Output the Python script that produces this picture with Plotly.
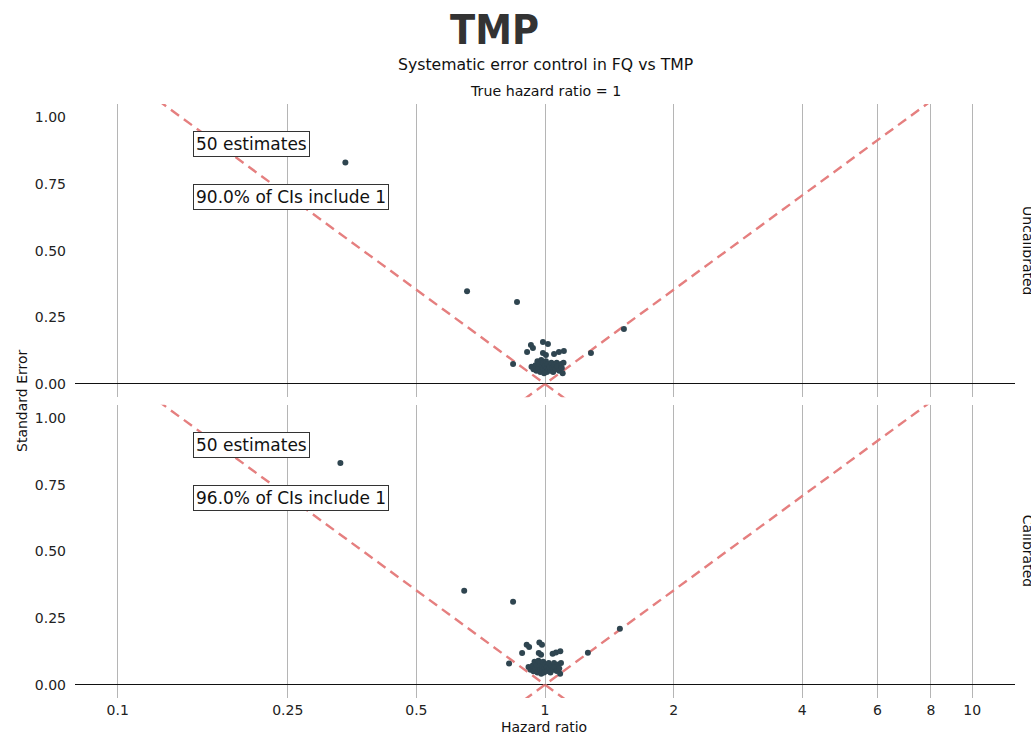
import math
import plotly.graph_objects as go

# ---------------- data ----------------
# Uncalibrated estimates (hazard ratio, standard error)
hr_uncal = [0.341, 0.657, 0.860, 1.53, 1.281, 0.842,
            0.927, 0.937, 0.989, 1.016, 0.908, 0.989, 1.005, 1.05, 1.078, 1.107,
            0.93, 0.94, 0.95, 0.955, 0.96, 0.965, 0.97, 0.975, 0.98, 0.985, 0.99, 0.99,
            0.995, 1.0, 1.0, 1.005, 1.01, 1.01, 1.015, 1.02, 1.025, 1.03, 1.035, 1.04,
            1.045, 1.05, 1.06, 1.065, 1.07, 1.08, 1.09, 1.095, 1.1, 1.105]
se_uncal = [0.831, 0.348, 0.307, 0.206, 0.116, 0.075,
            0.146, 0.135, 0.157, 0.150, 0.120, 0.116, 0.109, 0.112, 0.120, 0.124,
            0.065, 0.055, 0.07, 0.05, 0.085, 0.06, 0.075, 0.045, 0.09, 0.065, 0.055, 0.08,
            0.04, 0.07, 0.05, 0.085, 0.06, 0.045, 0.075, 0.055, 0.065, 0.05, 0.08, 0.06,
            0.045, 0.07, 0.055, 0.08, 0.065, 0.05, 0.075, 0.06, 0.04, 0.08]

# Calibrated estimates
hr_cal = [0.332, 0.647, 0.842, 1.497, 1.26, 0.824,
          0.906, 0.918, 0.970, 0.984, 0.884, 0.967, 0.979, 1.042, 1.061, 1.086,
          0.915, 0.925, 0.935, 0.94, 0.945, 0.95, 0.955, 0.96, 0.965, 0.97, 0.975, 0.975,
          0.98, 0.985, 0.985, 0.99, 0.995, 0.995, 1.0, 1.005, 1.01, 1.015, 1.02, 1.025,
          1.03, 1.035, 1.045, 1.05, 1.055, 1.065, 1.075, 1.08, 1.085, 1.09]
se_cal = [0.831, 0.352, 0.311, 0.210, 0.120, 0.079,
          0.150, 0.141, 0.158, 0.150, 0.119, 0.119, 0.112, 0.116, 0.121, 0.125,
          0.066, 0.056, 0.071, 0.05, 0.086, 0.061, 0.076, 0.046, 0.09, 0.066, 0.056, 0.081,
          0.041, 0.071, 0.051, 0.086, 0.061, 0.046, 0.076, 0.056, 0.066, 0.051, 0.081, 0.061,
          0.046, 0.071, 0.056, 0.081, 0.066, 0.051, 0.076, 0.061, 0.041, 0.081]

panel_labels = ["Uncalibrated", "Calibrated"]
count_labels = ["50 estimates", "50 estimates"]
coverage_labels = ["90.0% of CIs include 1", "96.0% of CIs include 1"]

x_tick_vals = [0.1, 0.25, 0.5, 1, 2, 4, 6, 8, 10]
x_tick_text = ["0.1", "0.25", "0.5", "1", "2", "4", "6", "8", "10"]
y_tick_vals = [0, 0.25, 0.5, 0.75, 1.0]
y_tick_text = ["0.00", "0.25", "0.50", "0.75", "1.00"]

z_crit = 1.96
funnel_se = [-0.2, 1.3]  # extent of the reference funnel lines (clipped by axes)

# ---------------- style ----------------
FONT = "DejaVu Sans"
POINT_COLOR = "#2f4550"
LINE_COLOR = "#e57f7f"
GRID_COLOR = "#b5b5b5"

fig = go.Figure()

panels = [("x2", "y2", hr_uncal, se_uncal), ("x", "y", hr_cal, se_cal)]
for xa, ya, hrs, ses in panels:
    # funnel lines: se = |ln(HR)| / z
    for sign in (1, -1):
        fig.add_trace(go.Scatter(
            x=[math.exp(sign * z_crit * s) for s in funnel_se], y=funnel_se,
            mode="lines", line=dict(color=LINE_COLOR, width=2.4, dash="10px,6px"),
            xaxis=xa, yaxis=ya, showlegend=False, hoverinfo="skip"))
    fig.add_trace(go.Scatter(
        x=hrs, y=ses, mode="markers",
        marker=dict(color=POINT_COLOR, size=6, line=dict(width=0)),
        xaxis=xa, yaxis=ya, showlegend=False))

xcommon = dict(type="log", range=[-1.1, 1.1], tickvals=x_tick_vals, ticktext=x_tick_text,
               showgrid=True, gridcolor=GRID_COLOR, gridwidth=1, showline=False,
               zeroline=False, ticks="", ticklabelstandoff=2,
               tickfont=dict(family=FONT, size=14, color="#222"))
ycommon = dict(range=[-0.05, 1.05], tickvals=y_tick_vals, ticktext=y_tick_text,
               showgrid=False, zeroline=True, zerolinecolor="#111", zerolinewidth=1.4,
               showline=False, ticks="", ticklabelstandoff=8,
               tickfont=dict(family=FONT, size=14, color="#222"))

fig.update_layout(
    width=1031, height=734,
    margin=dict(l=75, r=16, t=104, b=35.6),
    paper_bgcolor="white", plot_bgcolor="white",
    font=dict(family=FONT, color="#222"),
    xaxis=dict(**xcommon, domain=[0, 1], anchor="y"),
    yaxis=dict(**ycommon, domain=[0, 0.4938], anchor="x"),
    xaxis2=dict(**xcommon, domain=[0, 1], anchor="y2", showticklabels=False, matches="x"),
    yaxis2=dict(**ycommon, domain=[0.5062, 1], anchor="x2"),
)

ann = []
# titles
ann.append(dict(text="<b>TMP</b>", x=0.4468, y=1.1254, xref="paper", yref="paper",
                showarrow=False, xanchor="center", yanchor="middle",
                font=dict(family="DejaVu Sans Condensed, DejaVu Sans", size=41, color="#333333")))
ann.append(dict(text="Systematic error control in FQ vs TMP", x=0.5, y=1.0666,
                xref="paper", yref="paper", showarrow=False, yanchor="middle",
                font=dict(family=FONT, size=15.7, color="#111")))
ann.append(dict(text="True hazard ratio = 1", x=0.5, y=1.0213,
                xref="paper", yref="paper", showarrow=False, yanchor="middle",
                font=dict(family=FONT, size=14.2, color="#111")))
# axis titles
ann.append(dict(text="Standard Error", x=-0.0564, y=0.5017, xref="paper", yref="paper",
                showarrow=False, textangle=-90, xanchor="center", yanchor="middle",
                font=dict(family=FONT, size=14, color="#111")))
ann.append(dict(text="Hazard ratio", x=0.4989, y=-0.048, xref="paper", yref="paper",
                showarrow=False, xanchor="center", yanchor="middle",
                font=dict(family=FONT, size=14, color="#111")))
# facet strip labels (partly cut by the right edge, as in the original)
for label, yc in zip(panel_labels, [0.754, 0.2478]):
    ann.append(dict(text=label, x=1.0, y=yc, xref="paper", yref="paper",
                    xshift=13, showarrow=False, textangle=90,
                    xanchor="center", yanchor="middle",
                    font=dict(family=FONT, size=14, color="#111")))
# in-panel labels
for (xr, yr), c_lab, cov_lab in zip([("x2", "y2"), ("x", "y")], count_labels, coverage_labels):
    for txt, yv in [(c_lab, 0.9), (cov_lab, 0.7)]:
        ann.append(dict(text=txt, x=math.log10(0.15), y=yv, xref=xr, yref=yr,
                        showarrow=False, xanchor="left", yanchor="middle",
                        bgcolor="white", bordercolor="#333", borderwidth=1, borderpad=2,
                        font=dict(family=FONT, size=17, color="#111")))

fig.update_layout(annotations=ann)
fig.write_html(
    "out.html",
    config={"displayModeBar": False},
    post_script="document.body.style.margin='0';document.body.style.overflow='hidden';",
)
